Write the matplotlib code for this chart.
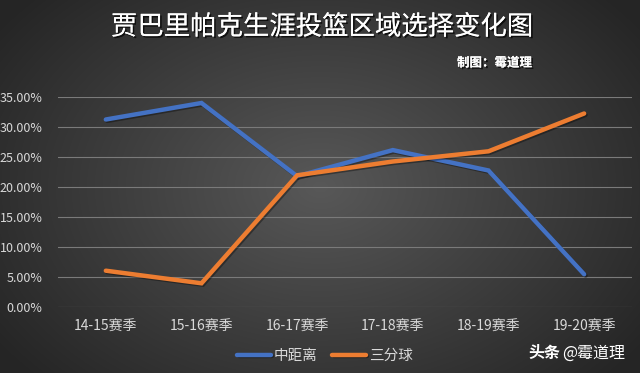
import numpy as np
import matplotlib
matplotlib.use("Agg")
import matplotlib.pyplot as plt
import matplotlib.patheffects as pe
from matplotlib.ticker import PercentFormatter

plt.rcParams['font.family'] = ['Noto Sans CJK SC', 'DejaVu Sans']

categories = ["14-15赛季", "15-16赛季", "16-17赛季", "17-18赛季", "18-19赛季", "19-20赛季"]
mid_range = [31.3, 34.05, 21.85, 26.2, 22.8, 5.5]
three_pt = [6.1, 4.0, 22.0, 24.3, 26.0, 32.3]
series_names = ["中距离", "三分球"]
yticks = [0, 5, 10, 15, 20, 25, 30, 35]

W, H = 640, 373
fig = plt.figure(figsize=(W / 100, H / 100), dpi=100)

# radial gradient background
bg = fig.add_axes([0, 0, 1, 1], zorder=-10)
yy, xx = np.mgrid[0:H, 0:W]
r = np.sqrt(((xx - W * 0.5) / (W * 0.62)) ** 2 + ((yy - H * 0.5) / (H * 0.75)) ** 2)
r = np.clip(r, 0, 1)
c_center = np.array([0x58, 0x58, 0x58]) / 255
c_edge = np.array([0x25, 0x25, 0x25]) / 255
img = c_center[None, None, :] * (1 - r[..., None]) + c_edge[None, None, :] * r[..., None]
bg.imshow(img, aspect='auto', extent=[0, 1, 0, 1])
bg.axis('off')

ax = fig.add_axes([58 / W, 1 - 307.3 / H, (632 - 58) / W, (307.3 - 97.3) / H])
ax.patch.set_alpha(0)
x = np.arange(len(categories))
shadow = [pe.SimpleLineShadow(offset=(1, -1), shadow_color='black', alpha=0.35), pe.Normal()]
ax.plot(x, mid_range, color='#4472C4', lw=3.2, solid_capstyle='round', solid_joinstyle='miter',
        label=series_names[0], path_effects=shadow, zorder=3)
ax.plot(x, three_pt, color='#ED7D31', lw=3.2, solid_capstyle='round', solid_joinstyle='miter',
        label=series_names[1], path_effects=shadow, zorder=4)

ax.set_xlim(-0.5, len(categories) - 0.5)
ax.set_ylim(0, 35)
ax.set_yticks(yticks)
ax.yaxis.set_major_formatter(PercentFormatter(decimals=2))
ax.set_xticks(x)
ax.set_xticklabels(categories)
ax.grid(axis='y', color='#7a7a7a', lw=0.8)
ax.set_axisbelow(True)
for s in ax.spines.values():
    s.set_visible(False)
ax.tick_params(axis='both', length=0, colors='#d9d9d9', labelsize=9)
ax.tick_params(axis='x', pad=9, labelsize=10)
ax.tick_params(axis='y', pad=11)

leg = fig.legend(loc='center', bbox_to_anchor=(325 / W, 1 - 356 / H), ncol=2, frameon=False,
                 fontsize=10.5, labelcolor='#d9d9d9', handlelength=2.3, handletextpad=0.2,
                 columnspacing=1.0)

title_fx = [pe.withSimplePatchShadow(offset=(1.2, -1.2), shadow_rgbFace='black', alpha=0.7), pe.Normal()]
fig.text(322 / W, 1 - 27 / H, "贾巴里帕克生涯投篮区域选择变化图", ha='center', va='center',
         fontsize=19, fontweight='medium', color='white', path_effects=title_fx)
fig.text(532 / W, 1 - 63 / H, "制图：霉道理", ha='right', va='center',
         fontsize=9, fontweight='bold', color='white', path_effects=title_fx)

fig.text(528 / W, 1 - 353 / H, "头条", ha='left', va='center', fontsize=11.5,
         fontweight='bold', color='white')
fig.text(562 / W, 1 - 353 / H, "@霉道理", ha='left', va='center', fontsize=11.5,
         color='white')

fig.savefig("out.png", dpi=100)
